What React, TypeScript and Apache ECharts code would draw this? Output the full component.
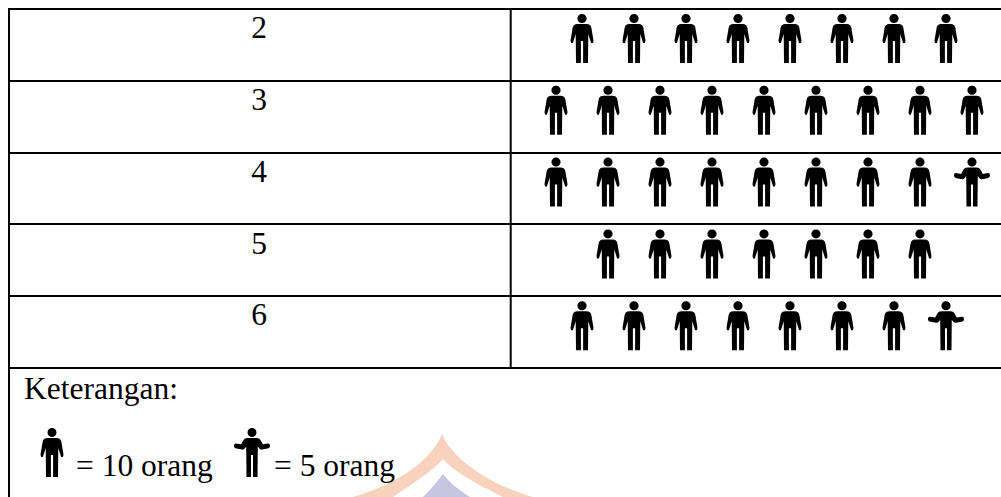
import React, { useEffect, useRef } from "react";
import * as echarts from "echarts";

const categories = ["2", "3", "4", "5", "6"];
const values = [80, 90, 85, 70, 75];
const unitFull = 10;
const noteTitle = "Keterangan:";
const noteFull = "= 10 orang";
const noteHalf = "= 5 orang";

const FONT = '31.5px "Liberation Serif"';
const INK = "#000000";

const personFull =
  "M11.5 0 A4.5 4.5 0 1 1 11.5 9 A4.5 4.5 0 1 1 11.5 0 Z " +
  "M7 10 L16 10 C19 10 20.2 11.5 20.8 13.5 L23 26.5 L22.4 29 L20.6 29 L17.8 20 L17.5 49 L12.6 49 L12.6 27 L10.4 27 L10.4 49 L5.5 49 L5.2 20 L2.4 29 L0.6 29 L0 26.5 L2.2 13.5 C2.8 11.5 4 10 7 10 Z";
const personHalf =
  "M18 0 A4.5 4.5 0 1 1 18 9 A4.5 4.5 0 1 1 18 0 Z " +
  "M13.5 10 L22.5 10 C25 10 26 11 27 13 L28.8 16.3 L34 15.5 C35.5 15.3 36 16.5 36 18 C36 19.5 35 20.3 33.5 20.6 L28 21.6 C26.5 21.8 25.5 21 24.5 19.5 L23.8 18.5 L23.5 49 L19 49 L19 27 L17 27 L17 49 L12.5 49 L12.2 18.5 L11.5 19.5 C10.5 21 9.5 21.8 8 21.6 L2.5 20.6 C1 20.3 0 19.5 0 18 C0 16.5 0.5 15.3 2 15.5 L7.2 16.3 L9 13 C10 11 11 10 13.5 10 Z";
const crestOuter =
  "M442 434 C448 450 475 480 533 497 L503 497 C476 484 452 470 443 459 C434 470 412 484 393 497 L353 497 C412 480 436 450 442 434 Z";
const crestInner = "M443 474 C449 482 459 490 470 497 L423 497 C430 490 437 482 443 474 Z";

echarts.graphic.registerShape("personFull", echarts.graphic.extendPath(personFull, {}));
echarts.graphic.registerShape("personHalf", echarts.graphic.extendPath(personHalf, {}));
echarts.graphic.registerShape("crestOuter", echarts.graphic.extendPath(crestOuter, {}));
echarts.graphic.registerShape("crestInner", echarts.graphic.extendPath(crestInner, {}));

const fullPoints: [number, string][] = [];
const halfPoints: [number, string][] = [];
values.forEach((v, r) => {
  const n = Math.ceil(v / unitFull);
  for (let i = 0; i < n; i++) {
    const slot = i - (n - 1) / 2;
    if ((i + 1) * unitFull <= v) fullPoints.push([slot, categories[r]]);
    else halfPoints.push([slot, categories[r]]);
  }
});

const vline = (x: number, y1: number, y2: number) => ({
  type: "line",
  z: 5,
  shape: { x1: x, y1, x2: x, y2 },
  style: { stroke: INK, lineWidth: 2 },
});
const note = (text: string, x: number, y: number) => ({
  type: "text",
  z: 5,
  x,
  y,
  style: { text, font: FONT, fill: INK, verticalAlign: "middle", align: "left" },
});

export default function App() {
  const ref = useRef<HTMLDivElement>(null);
  useEffect(() => {
    const chart = echarts.init(ref.current!, null, { renderer: "svg" });
    chart.setOption({
      animation: false,
      backgroundColor: "#ffffff",
      grid: { left: 9, right: 0, top: 8.8, height: 359 },
      xAxis: { type: "value", min: -14.52, max: 4.558, show: false },
      yAxis: {
        type: "category",
        data: categories,
        inverse: true,
        axisLine: { show: false },
        axisTick: { show: false },
        splitLine: { show: true, lineStyle: { color: INK, width: 2 } },
        axisLabel: {
          inside: true,
          margin: 250,
          align: "center",
          verticalAlign: "bottom",
          padding: [0, 0, 1, 0],
          color: INK,
          fontFamily: "Liberation Serif",
          fontSize: 31.5,
        },
      },
      series: [
        {
          type: "scatter",
          data: fullPoints,
          symbol: "path://" + personFull,
          symbolSize: [23, 49],
          symbolOffset: [0, -6.2],
          itemStyle: { color: INK, opacity: 1 },
          silent: true,
        },
        {
          type: "scatter",
          data: halfPoints,
          symbol: "path://" + personHalf,
          symbolSize: [36, 49],
          symbolOffset: [0, -6.2],
          itemStyle: { color: INK, opacity: 1 },
          silent: true,
        },
      ],
      graphic: [
        { type: "crestOuter", z: 1, x: 0, y: 0, style: { fill: "#f9d2bd" } },
        { type: "crestInner", z: 1, x: 0, y: 0, style: { fill: "#c6c6e2" } },
        vline(9, 8, 497),
        vline(510.7, 8, 368),
        note(noteTitle, 24, 388),
        note(noteFull, 76, 465),
        note(noteHalf, 274, 465),
        { type: "personFull", z: 5, x: 40.5, y: 428, style: { fill: INK } },
        { type: "personHalf", z: 5, x: 234, y: 428, style: { fill: INK } },
      ],
    });
    return () => chart.dispose();
  }, []);
  return (
    <div
      ref={ref}
      style={{ position: "absolute", left: 0, top: 0, width: 1001, height: 497 }}
    />
  );
}
